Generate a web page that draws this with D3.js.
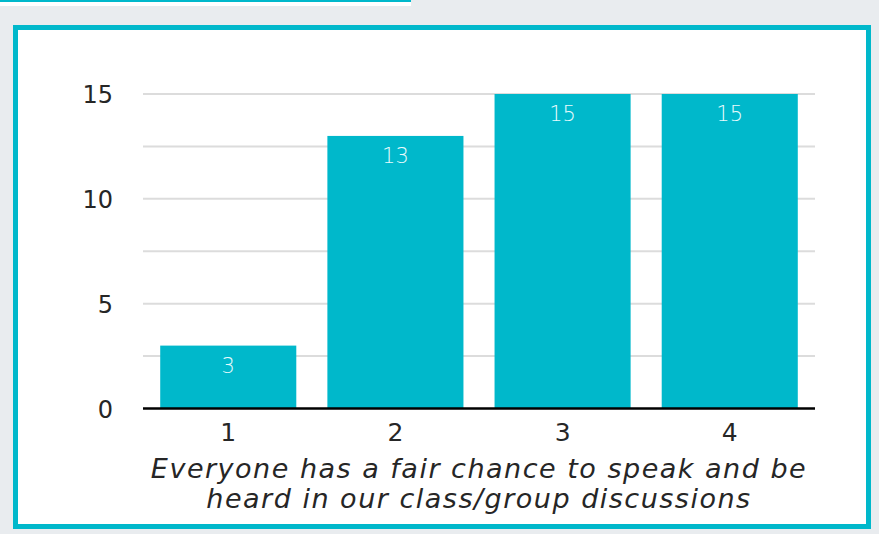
<!DOCTYPE html>
<html>
<head>
<meta charset="utf-8">
<script src="https://cdn.jsdelivr.net/npm/d3@7"></script>
<style>
  body { margin: 0; background: #e9ecef; }
  svg { display: block; }
</style>
</head>
<body>
<div class="chart"></div>
<script>
// chart data
const categories = ["1", "2", "3", "4"];
const counts = [3, 13, 15, 15];
const yTicks = [0, 5, 10, 15];
const gridTicks = [2.5, 5, 7.5, 10, 12.5, 15];
const titleLines = [
  "Everyone has a fair chance to speak and be",
  "heard in our class/group discussions"
];

const teal = "#00b8cb";
const font = "'DejaVu Sans', sans-serif";

const svg = d3.select(".chart")
  .append("svg")
  .attr("width", 879)
  .attr("height", 534);

// gray page background + top strip
svg.append("rect")
  .attr("width", 879).attr("height", 534)
  .attr("fill", "#e9ecef");
svg.append("rect")
  .attr("x", 0).attr("y", 0)
  .attr("width", 411).attr("height", 6)
  .attr("fill", "#ffffff");
svg.append("rect")
  .attr("x", 0).attr("y", 0)
  .attr("width", 411).attr("height", 2)
  .attr("fill", teal);

// white panel with teal border
svg.append("rect")
  .attr("x", 15.5).attr("y", 27.5)
  .attr("width", 853).attr("height", 499)
  .attr("fill", "#ffffff")
  .attr("stroke", teal)
  .attr("stroke-width", 5);

const xScale = d3.scaleBand()
  .domain(categories)
  .range([143.5, 814.5])
  .paddingInner(0.186)
  .paddingOuter(0.1);

const yScale = d3.scaleLinear()
  .domain([0, 15])
  .range([408.5, 94]);

// gridlines
svg.append("g")
  .selectAll("line")
  .data(gridTicks)
  .join("line")
  .attr("x1", 143)
  .attr("x2", 815)
  .attr("y1", d => yScale(d))
  .attr("y2", d => yScale(d))
  .attr("stroke", "#dcdcdc")
  .attr("stroke-width", 2);

// y labels
svg.append("g")
  .selectAll("text")
  .data(yTicks)
  .join("text")
  .text(d => d)
  .attr("x", 113)
  .attr("y", d => yScale(d) + 9)
  .attr("text-anchor", "end")
  .style("font-family", font)
  .style("font-size", "24px")
  .attr("fill", "#262626");

// bars + labels
const bar = svg.selectAll("g.bar")
  .data(counts)
  .join("g")
  .attr("class", "bar")
  .attr("transform", (d, i) => `translate(${xScale(categories[i])},0)`);

bar.append("rect")
  .attr("x", 0)
  .attr("y", d => yScale(d))
  .attr("width", xScale.bandwidth())
  .attr("height", d => yScale(0) - yScale(d))
  .attr("fill", teal);

bar.append("text")
  .text(d => d)
  .attr("x", xScale.bandwidth() / 2)
  .attr("y", d => yScale(d) + 27)
  .attr("text-anchor", "middle")
  .style("font-family", font)
  .style("font-size", "21px")
  .style("font-weight", 300)
  .attr("fill", "#e8fbfd");

// baseline
svg.append("line")
  .attr("x1", 143).attr("x2", 815)
  .attr("y1", yScale(0)).attr("y2", yScale(0))
  .attr("stroke", "#000")
  .attr("stroke-width", 2.5);

// x labels
svg.append("g")
  .selectAll("text")
  .data(categories)
  .join("text")
  .text(d => d)
  .attr("x", d => xScale(d) + xScale.bandwidth() / 2)
  .attr("y", 441)
  .attr("text-anchor", "middle")
  .style("font-family", font)
  .style("font-size", "25px")
  .attr("fill", "#262626");

// axis title
svg.append("g")
  .selectAll("text")
  .data(titleLines)
  .join("text")
  .text(d => d)
  .attr("x", 479)
  .attr("y", (d, i) => 478 + i * 30)
  .attr("text-anchor", "middle")
  .style("font-family", font)
  .style("font-style", "italic")
  .style("font-size", "27px")
  .style("letter-spacing", "1.5px")
  .attr("fill", "#262626");
</script>
</body>
</html>
